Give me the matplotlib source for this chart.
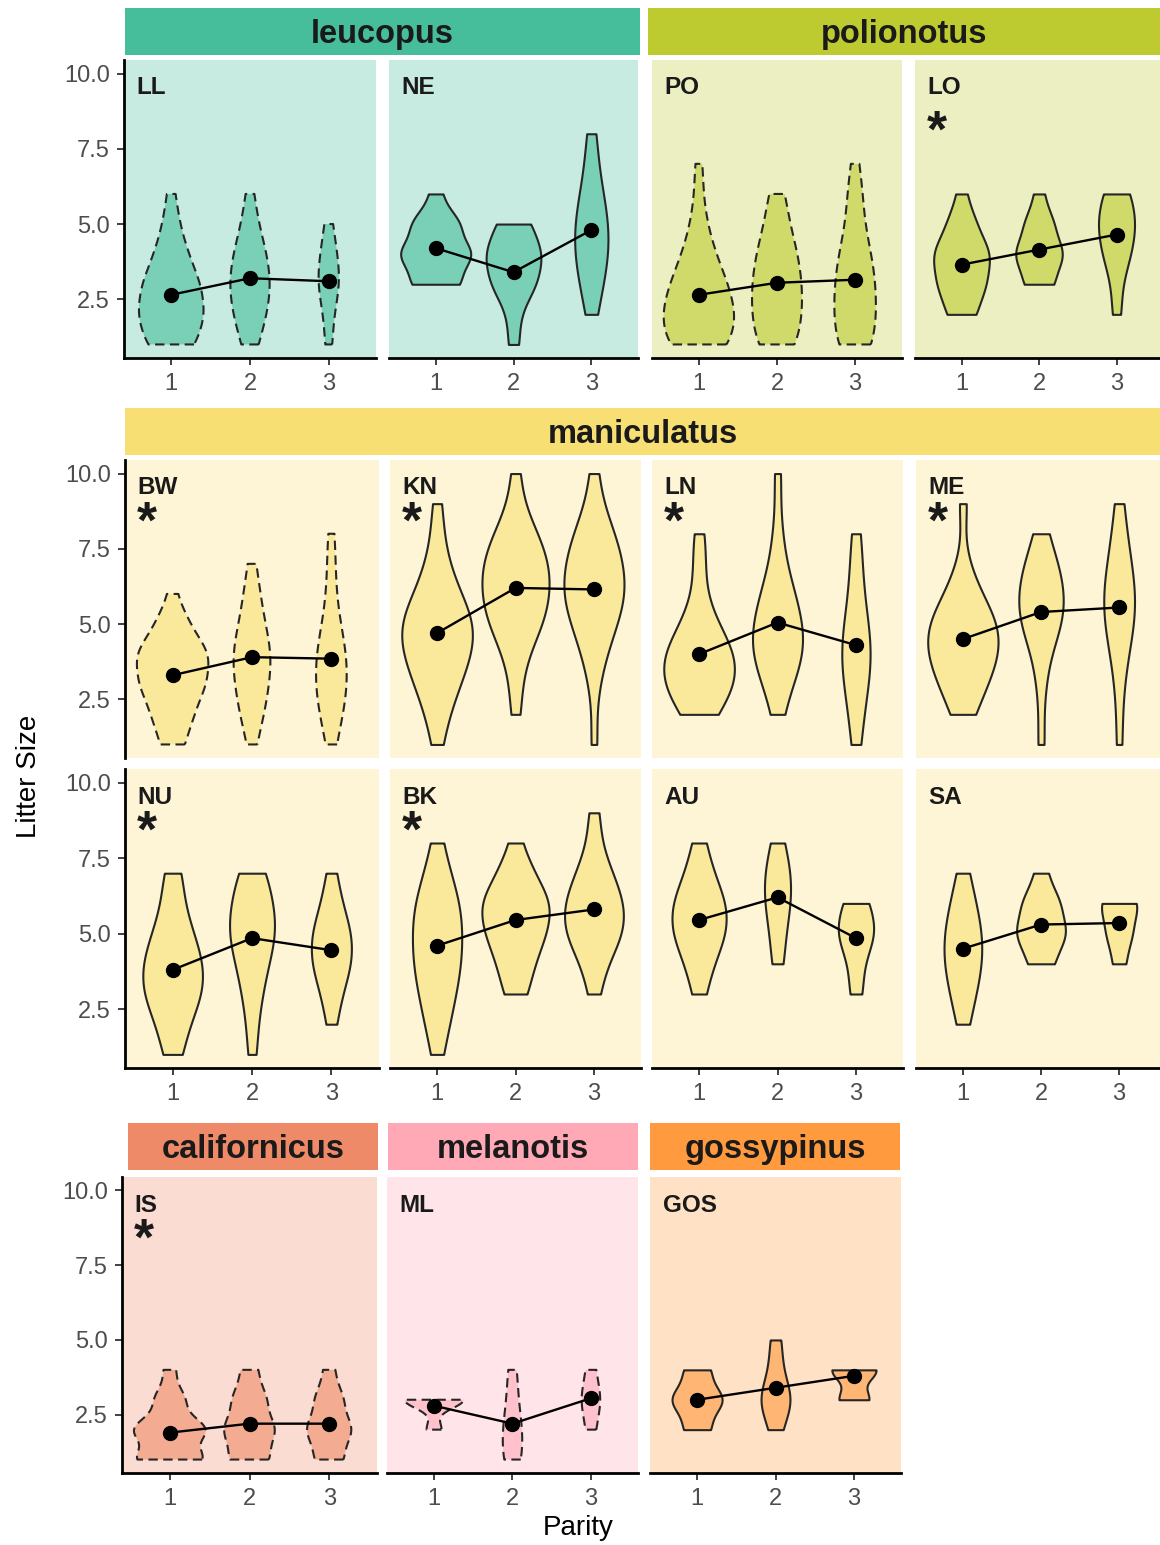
import numpy as np
import matplotlib
matplotlib.use('Agg')
import matplotlib.pyplot as plt
from matplotlib import cbook
from matplotlib.patches import Rectangle

plt.rcParams['font.family'] = ['Liberation Sans', 'DejaVu Sans']

W, H = 1160, 1545

litter = np.arange(1, 11)
parity = [1, 2, 3]

# number of litters of each size 1..10, one row per parity
LL = [[6, 8, 7, 4, 2, 1, 0, 0, 0, 0], [2, 4, 5, 4, 2, 1, 0, 0, 0, 0], [1, 1, 3, 2, 1, 0, 0, 0, 0, 0]]
NE = [[0, 0, 4, 6, 4, 1, 0, 0, 0, 0], [1, 1, 4, 5, 3, 0, 0, 0, 0, 0], [0, 1, 2, 3, 3, 2, 1, 1, 0, 0]]
PO = [[8, 9, 7, 4, 2, 1, 1, 0, 0, 0], [5, 6, 6, 5, 3, 2, 0, 0, 0, 0], [5, 5, 5, 4, 2, 2, 1, 0, 0, 0]]
LO = [[0, 3, 5, 6, 3, 1, 0, 0, 0, 0], [0, 0, 3, 5, 3, 1, 0, 0, 0, 0], [0, 1, 1, 3, 4, 3, 0, 0, 0, 0]]
BW = [[3, 5, 8, 9, 4, 1, 0, 0, 0, 0], [1, 3, 4, 5, 3, 2, 1, 0, 0, 0], [1, 3, 4, 4, 2, 1, 1, 1, 0, 0]]
KN = [[1, 2, 4, 6, 7, 4, 2, 1, 1, 0], [0, 1, 1, 2, 5, 6, 6, 4, 1, 1], [1, 0, 1, 2, 4, 6, 5, 4, 1, 1]]
LN = [[0, 3, 6, 6, 3, 1, 1, 1, 0, 0], [0, 1, 2, 5, 4, 3, 1, 1, 0, 1], [1, 1, 2, 3, 2, 1, 1, 1, 0, 0]]
ME = [[0, 2, 4, 6, 6, 3, 1, 0, 1, 0], [1, 0, 1, 1, 4, 4, 3, 1, 0, 0], [1, 0, 1, 1, 3, 3, 2, 1, 1, 0]]
NU = [[2, 3, 6, 6, 4, 2, 2, 0, 0, 0], [1, 1, 2, 3, 5, 4, 3, 0, 0, 0], [0, 1, 2, 4, 4, 2, 1, 0, 0, 0]]
BK = [[1, 2, 3, 4, 4, 4, 2, 1, 0, 0], [0, 0, 2, 3, 5, 6, 3, 1, 0, 0], [0, 0, 1, 2, 5, 5, 3, 1, 1, 0]]
AU = [[0, 0, 1, 2, 4, 4, 2, 1, 0, 0], [0, 0, 0, 1, 1, 2, 2, 1, 0, 0], [0, 0, 1, 1, 3, 2, 0, 0, 0, 0]]
SA = [[0, 1, 2, 3, 3, 2, 1, 0, 0, 0], [0, 0, 0, 2, 4, 3, 1, 0, 0, 0], [0, 0, 0, 1, 2, 3, 0, 0, 0, 0]]
IS = [[11, 12, 5, 2, 0, 0, 0, 0, 0, 0], [7, 9, 6, 3, 0, 0, 0, 0, 0, 0], [5, 8, 5, 2, 0, 0, 0, 0, 0, 0]]
ML = [[0, 1, 4, 0, 0, 0, 0, 0, 0, 0], [2, 2, 1, 1, 0, 0, 0, 0, 0, 0], [0, 1, 2, 1, 0, 0, 0, 0, 0, 0]]
GOS = [[0, 2, 4, 2, 0, 0, 0, 0, 0, 0], [0, 1, 3, 1, 1, 0, 0, 0, 0, 0], [0, 0, 2, 3, 0, 0, 0, 0, 0, 0]]

# mean litter size per parity (black dots)
LL_mean = [2.65, 3.2, 3.1]
NE_mean = [4.2, 3.4, 4.8]
PO_mean = [2.65, 3.05, 3.15]
LO_mean = [3.65, 4.15, 4.65]
BW_mean = [3.3, 3.9, 3.85]
KN_mean = [4.7, 6.2, 6.15]
LN_mean = [4.0, 5.05, 4.3]
ME_mean = [4.5, 5.4, 5.55]
NU_mean = [3.8, 4.85, 4.45]
BK_mean = [4.6, 5.45, 5.8]
AU_mean = [5.45, 6.2, 4.85]
SA_mean = [4.5, 5.3, 5.35]
IS_mean = [1.9, 2.2, 2.2]
ML_mean = [2.8, 2.2, 3.05]
GOS_mean = [3.0, 3.4, 3.8]

species = ['leucopus', 'polionotus', 'maniculatus', 'californicus', 'melanotis', 'gossypinus']
species_colors = ['#46BD9B', '#BDCB30', '#F8DF74', '#EF8A68', '#FFA9B7', '#FF9A3E']
species_pops = [['LL', 'NE'], ['PO', 'LO'], ['BW', 'KN', 'LN', 'ME', 'NU', 'BK', 'AU', 'SA'],
                ['IS'], ['ML'], ['GOS']]
signif = ['LO', 'BW', 'KN', 'LN', 'ME', 'NU', 'BK', 'IS']
dashed = ['LL', 'PO', 'BW', 'IS', 'ML']

counts = {'LL': LL, 'NE': NE, 'PO': PO, 'LO': LO, 'BW': BW, 'KN': KN, 'LN': LN, 'ME': ME,
          'NU': NU, 'BK': BK, 'AU': AU, 'SA': SA, 'IS': IS, 'ML': ML, 'GOS': GOS}
means = {'LL': LL_mean, 'NE': NE_mean, 'PO': PO_mean, 'LO': LO_mean, 'BW': BW_mean,
         'KN': KN_mean, 'LN': LN_mean, 'ME': ME_mean, 'NU': NU_mean, 'BK': BK_mean,
         'AU': AU_mean, 'SA': SA_mean, 'IS': IS_mean, 'ML': ML_mean, 'GOS': GOS_mean}

# layout in pixels
rows_y = {1: (60, 358), 2: (460, 758), 3: (769, 1068), 4: (1177, 1473)}
panel_box = {'LL': (124, 376, 1), 'NE': (389, 638, 1), 'PO': (652, 902, 1), 'LO': (915, 1163, 1),
             'BW': (125, 379, 2), 'KN': (390, 641, 2), 'LN': (652, 903, 2), 'ME': (916, 1166, 2),
             'NU': (125, 379, 3), 'BK': (390, 641, 3), 'AU': (652, 903, 3), 'SA': (916, 1166, 3),
             'IS': (122, 377, 4), 'ML': (387, 638, 4), 'GOS': (650, 901, 4)}
strip_box = {'leucopus': (125, 640, 8, 55), 'polionotus': (648, 1160, 8, 55),
             'maniculatus': (125, 1160, 408, 455), 'californicus': (128, 378, 1123, 1170),
             'melanotis': (388, 638, 1123, 1170), 'gossypinus': (650, 900, 1123, 1170)}
first_col = ['LL', 'BW', 'NU', 'IS']


def mix(c, other, a):
    c = np.array(matplotlib.colors.to_rgb(c))
    other = np.array(matplotlib.colors.to_rgb(other))
    return tuple(a * c + (1 - a) * other)


def kde(x, coords):
    h = 0.9 * np.std(x, ddof=1) * len(x) ** -0.2
    z = (coords[:, None] - x[None, :]) / h
    return np.exp(-0.5 * z ** 2).sum(axis=1) / (len(x) * h * np.sqrt(2 * np.pi))


fig = plt.figure(figsize=(W / 100, H / 100), dpi=100)

for sp, col, pops in zip(species, species_colors, species_pops):
    x0, x1, y0, y1 = strip_box[sp]
    fig.add_artist(Rectangle((x0 / W, 1 - y1 / H), (x1 - x0) / W, (y1 - y0) / H,
                             transform=fig.transFigure, facecolor=col, edgecolor='none'))
    fig.text((x0 + x1) / 2 / W, 1 - (y1 - 12) / H, sp, ha='center', va='baseline',
             fontsize=23.5, fontweight='bold', color='#1A1A1A')

    bg = mix(col, 'white', 0.3)
    fill = mix(col, bg, 0.6)
    for code in pops:
        px0, px1, row = panel_box[code]
        py0, py1 = rows_y[row]
        ax = fig.add_axes([px0 / W, 1 - py1 / H, (px1 - px0) / W, (py1 - py0) / H])
        ax.set_facecolor(bg)

        samples = [np.repeat(litter, c) for c in counts[code]]
        stats = cbook.violin_stats(samples, kde, points=300)
        dmax = max(s['vals'].max() for s in stats)
        nmax = max(len(x) for x in samples)
        widths = [0.9 * s['vals'].max() / dmax * len(x) / nmax for s, x in zip(stats, samples)]
        parts = ax.violin(stats, positions=parity, widths=widths, showextrema=False)
        for b in parts['bodies']:
            b.set_alpha(1)
            b.set_facecolor(fill)
            b.set_edgecolor('#262626')
            b.set_linewidth(1.5)
            if code in dashed:
                b.set_linestyle((0, (4.5, 2.6)))

        ax.plot(parity, means[code], color='black', lw=1.7, marker='o', ms=10, zorder=3)

        ax.set_xlim(0.4, 3.6)
        ax.set_ylim(0.55, 10.45)
        ax.set_xticks(parity)
        ax.set_xticklabels([str(p) for p in parity])
        ax.set_yticks([2.5, 5.0, 7.5, 10.0])
        ax.set_yticklabels(['2.5', '5.0', '7.5', '10.0'])
        ax.tick_params(labelsize=17, labelcolor='#4D4D4D', color='#333333',
                       length=5, width=1.3)
        ax.tick_params(axis='x', pad=6)
        ax.tick_params(axis='y', pad=5)
        for s in ['top', 'right']:
            ax.spines[s].set_visible(False)
        if row == 2:
            # upper row of the maniculatus facet has no x axis
            ax.spines['bottom'].set_visible(False)
            ax.tick_params(axis='x', bottom=False, labelbottom=False)
        else:
            ax.spines['bottom'].set_linewidth(2)
        if code in first_col:
            ax.spines['left'].set_linewidth(2)
        else:
            ax.spines['left'].set_visible(False)
            ax.tick_params(axis='y', left=False, labelleft=False)

        h = py1 - py0
        ax.text(0.05, 1 - 28 / h, code, transform=ax.transAxes, ha='left', va='center',
                fontsize=17.5, fontweight='bold', color='#1A1A1A')
        if code in signif:
            dy = 62 if row == 1 else 53
            ax.text(0.087, 1 - (dy + 11) / h, '*', transform=ax.transAxes, ha='center',
                    va='center', fontsize=37, fontweight='bold', color='#1A1A1A')

fig.text(29 / W, 1 - 776 / H, 'Litter Size', rotation=90, ha='center', va='center',
         fontsize=20, color='black')
fig.text(578 / W, 1 - 1528 / H, 'Parity', ha='center', va='center', fontsize=20, color='black')

fig.savefig('out.png', dpi=100)
